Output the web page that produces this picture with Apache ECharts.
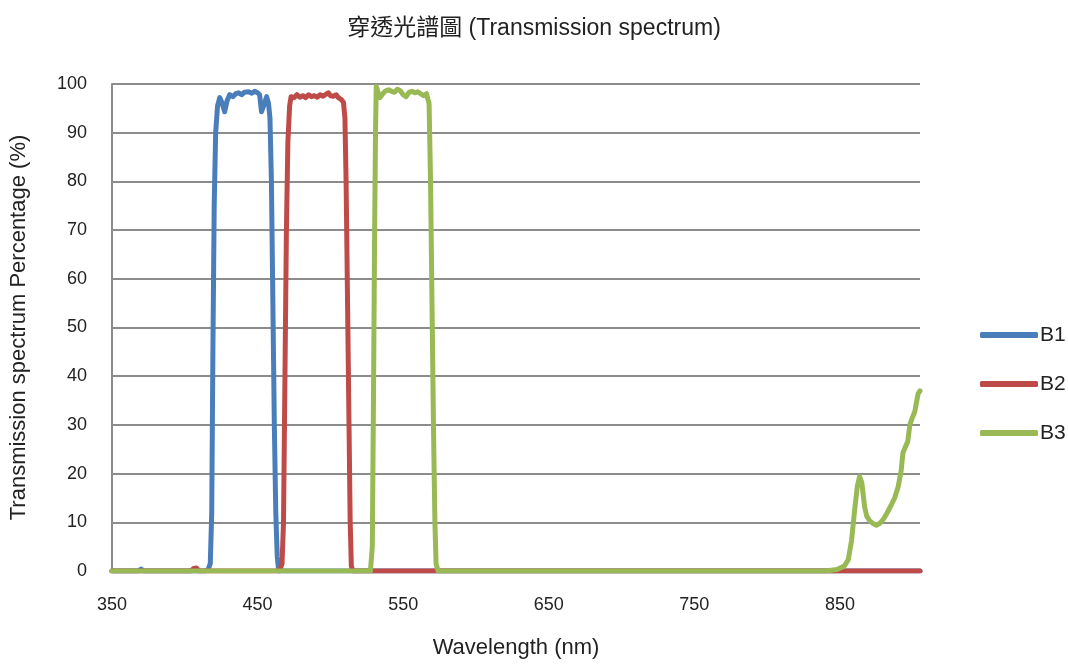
<!DOCTYPE html>
<html>
<head>
<meta charset="utf-8">
<title>穿透光譜圖</title>
<script src="https://cdn.jsdelivr.net/npm/echarts@6/dist/echarts.min.js"></script>
<style>
  html, body { margin: 0; padding: 0; background: #ffffff; width: 100%; height: 100%; overflow: hidden; }
  #chart { width: 1068px; height: 664px; }
</style>
</head>
<body>
<div id="chart"></div>
<script>
// Transmission spectra of three band filters: [wavelength (nm), transmission (%)]
const seriesNames = ['B1', 'B2', 'B3'];

const b1 = [
  [350, 0], [368, 0], [370, 0.4], [372, 0], [414, 0], [416, 0.3], [417.5, 1.5],
  [418.5, 12], [419.3, 45], [420.2, 75], [421.2, 90], [422.5, 95.5], [424, 97.2],
  [425.5, 96.2], [427.4, 94.3], [429, 96.5], [430.8, 97.8], [433, 97.4], [435, 98],
  [437, 98.2], [439, 97.8], [441, 98.3], [443.8, 98.4], [446, 98.1], [448, 98.5],
  [450, 98.2], [451.4, 97.8], [452.7, 94.3], [454.5, 95.8], [456.2, 97.4], [457.5, 96],
  [458.5, 93], [459.5, 80], [460.5, 55], [461.5, 30], [462.5, 12], [463.5, 3],
  [464.5, 0], [905, 0]
];

const b2 = [
  [350, 0], [404, 0], [406, 0.5], [408, 0.6], [410, 0], [465, 0], [466.8, 1.5],
  [467.8, 10], [468.8, 40], [469.8, 70], [470.8, 88], [472, 95.5], [473, 97.4],
  [475, 97.2], [477, 97.8], [479, 97.3], [481, 97.6], [483, 97.2], [485, 97.8],
  [487, 97.4], [489, 97.6], [491, 97.3], [493, 97.8], [495, 97.5], [497, 97.9],
  [498.6, 98.2], [500, 97.6], [502, 97.5], [504, 97.8], [505.5, 97.2], [507.5, 96.8],
  [509, 96.2], [510, 93], [510.8, 80], [511.8, 55], [512.8, 30], [513.6, 10],
  [514.4, 1], [515.5, 0], [905, 0]
];

const b3 = [
  [350, 0], [527.5, 0], [528.8, 5], [529.6, 35], [530.4, 70], [531, 90], [531.5, 99.5],
  [532.5, 98.5], [534, 97.2], [536, 98], [538, 98.6], [540, 98.8], [542, 98.5],
  [544, 98.3], [546, 98.9], [548, 98.6], [550, 97.8], [552, 97.4], [554, 98.3],
  [556, 98.5], [558, 98.2], [560, 98.4], [562, 98], [564, 97.6], [566, 98],
  [567.8, 96], [568.8, 80], [569.8, 55], [570.8, 30], [571.8, 10], [572.6, 1.5],
  [574, 0], [840, 0], [848, 0.3], [853, 1], [855.7, 2.3], [858, 6.3], [860.3, 13.1],
  [862, 17.5], [863.5, 19.4], [865, 18.2], [867, 13.1], [868.5, 11.2], [870.5, 10.3],
  [873, 9.7], [875, 9.4], [877.5, 9.8], [880, 10.7], [882, 11.7], [885, 13.4],
  [887.7, 15.1], [890, 17.3], [892, 20.5], [893.3, 24.3], [895, 25.5], [896.6, 26.6],
  [898, 30], [899.5, 31.3], [901.4, 32.7], [902.5, 34.5], [903.7, 36.4], [905, 37]
];

const xTicks = { min: 350, max: 905, step: 100 };
const yTicks = { min: 0, max: 100, step: 10 };
const colors = ['#4a7ebb', '#be4b48', '#98b954'];

const fontFamily = '"Liberation Sans", Arial, "Noto Sans CJK TC", sans-serif';
const gridColor = '#8c8c8c';

const chart = echarts.init(document.getElementById('chart'), null, { renderer: 'canvas', width: 1068, height: 664 });

chart.setOption({
  backgroundColor: '#ffffff',
  animation: false,
  color: colors,
  title: {
    text: '穿透光譜圖 (Transmission spectrum)',
    left: 'center',
    top: 12,
    textStyle: { fontFamily: fontFamily, fontSize: 23, fontWeight: 'normal', color: '#222222' }
  },
  legend: {
    orient: 'vertical', left: 975, top: 319, itemWidth: 58, itemHeight: 6, itemGap: 27, icon: 'roundRect',
    textStyle: { fontFamily: fontFamily, fontSize: 21, color: '#222222', lineHeight: 22, padding: [0, 0, 0, -3] },
    data: seriesNames
  },
  grid: { left: 110, right: 148, top: 84, bottom: 86, containLabel: false },
  xAxis: {
    type: 'value', min: xTicks.min, max: xTicks.max, interval: xTicks.step,
    name: 'Wavelength (nm)', nameLocation: 'middle', nameGap: 66,
    nameTextStyle: { fontFamily: fontFamily, fontSize: 22, color: '#222222' },
    axisLine: { show: true, lineStyle: { color: gridColor, width: 2 } },
    axisTick: { show: false },
    axisLabel: { showMaxLabel: false, margin: 25, fontFamily: fontFamily, fontSize: 18, color: '#222222' },
    splitLine: { show: false }
  },
  yAxis: {
    type: 'value', min: yTicks.min, max: yTicks.max, interval: yTicks.step,
    name: 'Transmission spectrum Percentage (%)', nameLocation: 'middle', nameGap: 82,
    nameTextStyle: { fontFamily: fontFamily, fontSize: 22, color: '#222222' },
    axisLine: { show: true, lineStyle: { color: gridColor, width: 2 } },
    axisTick: { show: false },
    axisLabel: { margin: 25, fontFamily: fontFamily, fontSize: 18, color: '#222222' },
    splitLine: { show: true, lineStyle: { color: gridColor, width: 2 } }
  },
  series: [b1, b2, b3].map((data, i) => ({
    name: seriesNames[i], type: 'line', data: data, showSymbol: false, symbol: 'none', smooth: false, clip: true,
    lineStyle: { width: 5, color: colors[i], join: 'round', cap: 'round' },
    itemStyle: { color: colors[i] }, z: 2 + i
  }))
});
</script>
</body>
</html>
